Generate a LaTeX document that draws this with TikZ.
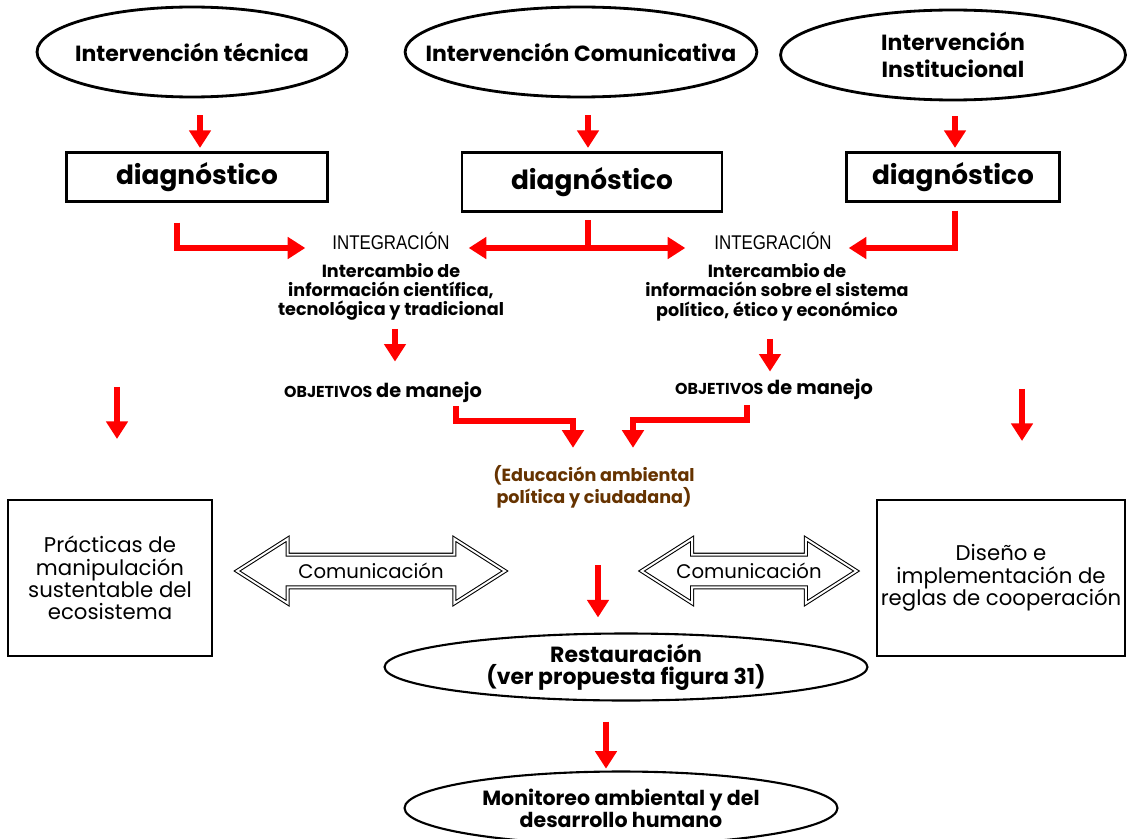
\documentclass[tikz,border=0pt]{standalone}
\usepackage{fontspec}
\setmainfont{Poppins}
\newfontfamily\narrowfont[FakeStretch=0.85]{Liberation Sans}
\usetikzlibrary{positioning, shapes.geometric, shapes.arrows, arrows.meta}

\definecolor{rojo}{RGB}{255,0,0}
\definecolor{cafe}{RGB}{102,51,0}

\tikzset{
  oval/.style={draw, ellipse, line width=1.6pt, align=center, inner sep=0pt, font=\bfseries\fontsize{12.5}{15.5}\selectfont},
  diag/.style={draw, rectangle, line width=1.2pt, font=\bfseries\fontsize{15}{18}\selectfont},
  integ/.style={inner sep=1pt, font=\narrowfont\fontsize{11.3}{12}\selectfont},
  texto/.style={align=center, inner sep=1pt, font=\bfseries\fontsize{10}{11}\selectfont},
  lateral/.style={draw, rectangle, line width=1.2pt, align=center, inner xsep=0pt, font=\fontsize{12.1}{12.7}\selectfont},
  flecha/.style={draw=rojo, line width=3.4pt, -{Triangle[width=12pt,length=10pt]}},
  linea/.style={draw=rojo, line width=3.4pt, line cap=rect},
  comunic/.style={double arrow, draw, double, double distance=1.1pt, line width=0.6pt,
    double arrow head extend=0.32cm, double arrow tip angle=65, inner ysep=4.5pt,
    font=\fontsize{11.2}{12}\selectfont}
}

\begin{document}
\begin{tikzpicture}[x=0.02cm, y=-0.02cm]
    \useasboundingbox (0,0) rectangle (1128,838);

    % intervenciones
    \node[oval, inner xsep=-0.16cm, minimum width=6.2cm, minimum height=1.8cm] (e1) at (192,52) {Intervención técnica};
    \node[oval, inner xsep=-0.62cm, minimum width=7.0cm, minimum height=1.8cm] (e2) at (581,52) {Intervención Comunicativa};
    \node[oval, minimum width=6.9cm, minimum height=1.8cm] (e3) at (953,55) {Intervención\\Institucional};

    % diagnosticos
    \node[diag, minimum width=5.22cm, minimum height=0.98cm] (d1) at (197,177) {diagnóstico};
    \node[diag, minimum width=5.2cm, minimum height=1.18cm] (d2) at (592,182) {diagnóstico};
    \node[diag, minimum width=4.26cm, minimum height=0.98cm] (d3) at (953,177) {diagnóstico};

    \draw[flecha, shorten >=2pt] (e1.south -| 200,0) ++(0,17) -- (d1.north -| 200,0);
    \draw[flecha, shorten >=2pt] (e2.south -| 588,0) ++(0,17) -- (d2.north -| 588,0);
    \draw[flecha, shorten >=2pt] (e3.south -| 955,0) ++(0,15) -- (d3.north -| 955,0);

    % integracion
    \node[integ] (int1) at (391,241) {INTEGRACIÓN};
    \node[integ] (int2) at (773,241) {INTEGRACIÓN};
    \node[texto] (ic1) at (391,292) {Intercambio de\\información científica,\\tecnológica y tradicional};
    \node[texto] (ic2) at (777,292) {Intercambio de\\información sobre el sistema\\político, ético y económico};

    \coordinate (bif) at (588,248);
    \draw[flecha] (d1.south -| 177,0) ++(0,20) |- ([shift={(-25,7)}]int1.east -| int1.west);
    \draw[linea] (d2.south -| bif) ++(0,10) -- (bif);
    \draw[flecha] (bif) -- ([shift={(17,7)}]int1.east);
    \draw[flecha] (bif) -- ([shift={(-27,7)}]int2.west);
    \draw[flecha] (d3.south -| 955,0) ++(0,8) |- ([shift={(15,7)}]int2.east);

    % objetivos
    \node[texto] (ob1) at (383,392) {{\fontsize{9}{10}\selectfont OBJETIVOS} {\fontsize{11}{12}\selectfont de manejo}};
    \node[texto] (ob2) at (774,389) {{\fontsize{9}{10}\selectfont OBJETIVOS} {\fontsize{11}{12}\selectfont de manejo}};
    \draw[flecha, shorten >=0.36cm] (ic1.south -| 395,0) ++(0,6) -- (ob1.north -| 395,0);
    \draw[flecha, shorten >=0.1cm] (ic2.south -| 770,0) ++(0,16) -- (ob2.north -| 770,0);

    \node[texto, text=cafe] (edu) at (594,487) {(Educación ambiental\\política y ciudadana)};
    \draw[flecha] (ob1.south -| 456,0) ++(0,2) -- ++(0,15) -| ([shift={(-21,-16)}]edu.north);
    \draw[flecha] (ob2.south -| 747,0) ++(0,4) -- ++(0,15) -| ([shift={(39,-16)}]edu.north);

    % cajas laterales
    \node[lateral, minimum width=4.08cm, minimum height=3.12cm] (pr) at (110,578) {Prácticas de\\manipulación\\sustentable del\\ecosistema};
    \node[lateral, minimum width=4.96cm, minimum height=3.12cm] (di) at (1001,578) {Diseño e\\implementación de\\reglas de cooperación};
    \draw[flecha, shorten >=1.2cm] (pr.north -| 117,0) ++(0,-112) -- (pr.north -| 117,0);
    \draw[flecha, shorten >=1.16cm] (di.north -| 1022,0) ++(0,-110) -- (di.north -| 1022,0);

    % comunicacion
    \node[comunic, minimum height=5.36cm] (com1) at (371,571) {Comunicación};
    \node[comunic, minimum height=4.3cm] (com2) at (749,571) {Comunicación};

    % restauracion y monitoreo
    \node[oval, line width=1.2pt, minimum width=9.66cm, minimum height=1.34cm, font=\bfseries\fontsize{12.5}{12.5}\selectfont] (rest) at (626,667) {Restauración\\(ver propuesta figura 31)};
    \node[oval, line width=1.2pt, minimum width=8.66cm, minimum height=1.46cm, font=\bfseries\fontsize{11.7}{12.5}\selectfont] (mon) at (621,808) {Monitoreo ambiental y del\\desarrollo humano};
    \draw[flecha, shorten >=0.3cm] (rest.north -| 598,0) ++(0,-67) -- (rest.north -| 598,0);
    \draw[flecha, shorten >=1pt] (rest.south -| 606,0) ++(0,20) -- (mon.north -| 606,0);
\end{tikzpicture}
\end{document}
